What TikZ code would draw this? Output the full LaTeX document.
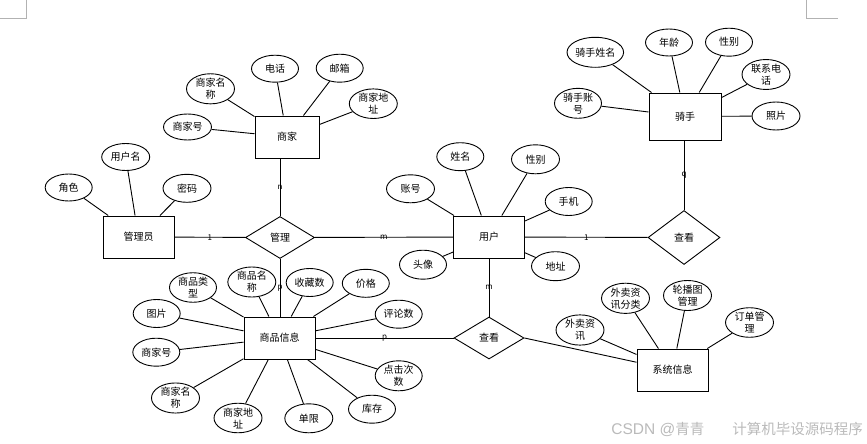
\documentclass[tikz,border=0pt]{standalone}
\usepackage{fontspec}
\setmainfont{Noto Sans CJK SC}
\newfontfamily\wmlatin{Liberation Sans}
\usetikzlibrary{shapes.geometric}
\begin{document}
\begin{tikzpicture}[x=1pt,y=-1pt,
  every node/.style={font=\fontsize{10}{12}\selectfont, inner sep=0pt},
  attr/.style={ellipse, draw, line width=0.9pt, minimum width=48pt, minimum height=28pt, align=center},
  ent/.style={rectangle, draw, line width=1pt, minimum width=71pt, minimum height=42pt},
  rel/.style={diamond, draw, line width=0.9pt},
  card/.style={font=\fontsize{8}{9}\selectfont},
  ln/.style={line width=0.9pt},
  cornermark/.style={draw=black!30, line width=0.7pt}]
\useasboundingbox (0,0) rectangle (867,444);
% page corner marks
\draw[cornermark] (26,0) -- (26,18) -- (0,18);
\draw[cornermark] (806,0) -- (806,18) -- (838,18);

% entities
\node[ent, minimum width=64pt] (sj) at (287,137) {商家};
\node[ent] (gly) at (138.5,237) {管理员};
\node[ent] (yh) at (489,237) {用户};
\node[ent, minimum width=72pt, minimum height=47pt] (qs) at (685,116.5) {骑手};
\node[ent] (sp) at (279.5,338) {商品信息};
\node[ent] (xt) at (672.5,370) {系统信息};

% relations
\node[rel, minimum width=69pt, minimum height=42pt] (gl) at (280,237.5) {管理};
\node[rel, minimum width=72pt, minimum height=54pt] (ck1) at (684,237.5) {查看};
\node[rel, minimum width=70pt, minimum height=42pt] (ck2) at (489,338) {查看};

% relation connectors
\draw[ln] (gl.north) -- (gl.north |- sj.south) node[card, midway] {n};
\draw[ln] (gly) -- (gl) node[card, midway] {1};
\draw[ln] (gl) -- (yh) node[card, midway] {m};
\draw[ln] (gl.south) -- (gl.south |- sp.north) node[card, midway] {p};
\draw[ln] (yh) -- (ck1) node[card, midway] {1};
\draw[ln] (ck1.north) -- (ck1.north |- qs.south) node[card, midway] {q};
\draw[ln] (yh) -- (ck2) node[card, midway] {m};
\draw[ln] (sp) -- (ck2) node[card, midway] {p};
\draw[ln] (ck2.east) -- (xt);

% 商家 attributes
\node[attr, minimum width=47pt, minimum height=27pt] (a1) at (275,68.7) {电话};
\node[attr, minimum width=47pt] (a2) at (339.7,68.2) {邮箱};
\node[attr, minimum height=27pt] (a3) at (373.3,103.7) {商家地\\址};
\node[attr] (a4) at (210.5,88.8) {商家名\\称};
\node[attr, minimum height=26pt] (a5) at (187.5,127) {商家号};
\foreach \a in {a1,a2,a3,a4,a5} \draw[ln] (\a) -- (sj);

% 管理员 attributes
\node[attr, minimum height=27pt] (b1) at (125.7,157) {用户名};
\node[attr, minimum width=47pt, minimum height=27pt] (b2) at (68.7,187.5) {角色};
\node[attr] (b3) at (187,188.3) {密码};
\foreach \a in {b1,b2,b3} \draw[ln] (\a) -- (gly);

% 用户 attributes
\node[attr, minimum width=47pt] (c1) at (460.3,156.7) {姓名};
\node[attr, minimum height=29pt] (c2) at (535.5,159.3) {性别};
\node[attr] (c3) at (410.5,188.8) {账号};
\node[attr, minimum width=47pt] (c4) at (568.7,201.5) {手机};
\node[attr, minimum width=47pt, minimum height=29pt] (c5) at (423,264.7) {头像};
\node[attr, minimum height=29pt] (c6) at (555.5,266.2) {地址};
\foreach \a in {c1,c2,c3,c4,c5,c6} \draw[ln] (\a) -- (yh);

% 骑手 attributes
\node[attr, minimum width=51pt, minimum height=30pt] (d1) at (595.3,52.3) {骑手姓名};
\node[attr, minimum width=47pt, minimum height=27pt] (d2) at (669,42.5) {年龄};
\node[attr, minimum width=47pt] (d3) at (729,42.2) {性别};
\node[attr] (d4) at (766,74.5) {联系电\\话};
\node[attr, minimum width=47pt] (d5) at (578,103.3) {骑手账\\号};
\node[attr] (d6) at (776,116) {照片};
\foreach \a in {d1,d2,d3,d4,d5,d6} \draw[ln] (\a) -- (qs);

% 商品信息 attributes
\node[attr, minimum width=47pt, minimum height=27pt] (e1) at (193,287.5) {商品类\\型};
\node[attr, minimum height=27pt] (e2) at (251.8,282) {商品名\\称};
\node[attr, minimum width=47pt] (e3) at (309.7,282.5) {收藏数};
\node[attr, minimum width=47pt] (e4) at (365.8,283.3) {价格};
\node[attr, minimum width=47pt] (e5) at (398.7,314.2) {评论数};
\node[attr, minimum width=47pt] (e6) at (156.7,313.5) {图片};
\node[attr, minimum width=47pt] (e7) at (156.3,352.2) {商家号};
\node[attr, minimum height=29pt] (e8) at (175.5,398) {商家名\\称};
\node[attr, minimum height=29pt] (e9) at (238,418) {商家地\\址};
\node[attr, minimum height=29pt] (e10) at (308.8,418.3) {单限};
\node[attr, minimum width=47pt] (e11) at (372,409.2) {库存};
\node[attr, minimum width=47pt] (e12) at (398.7,375.8) {点击次\\数};
\foreach \a in {e1,e2,e3,e4,e5,e6,e7,e8,e9,e10,e11,e12} \draw[ln] (\a) -- (sp);

% 系统信息 attributes
\node[attr] (f1) at (580,330) {外卖资\\讯};
\node[attr, minimum height=29pt] (f2) at (625.5,298.3) {外卖资\\讯分类};
\node[attr] (f3) at (687.5,295.5) {轮播图\\管理};
\node[attr] (f4) at (749.5,322.5) {订单管\\理};
\foreach \a in {f1,f2,f3,f4} \draw[ln] (\a) -- (xt);

% watermark
\node[anchor=east, text=black!27, font=\fontsize{14.5}{16}\selectfont] (wm) at (863,429.5) {{\wmlatin\fontsize{15.5}{16}\selectfont CSDN @}青青\hspace{28pt}计算机毕设源码程序};
\end{tikzpicture}
\end{document}
